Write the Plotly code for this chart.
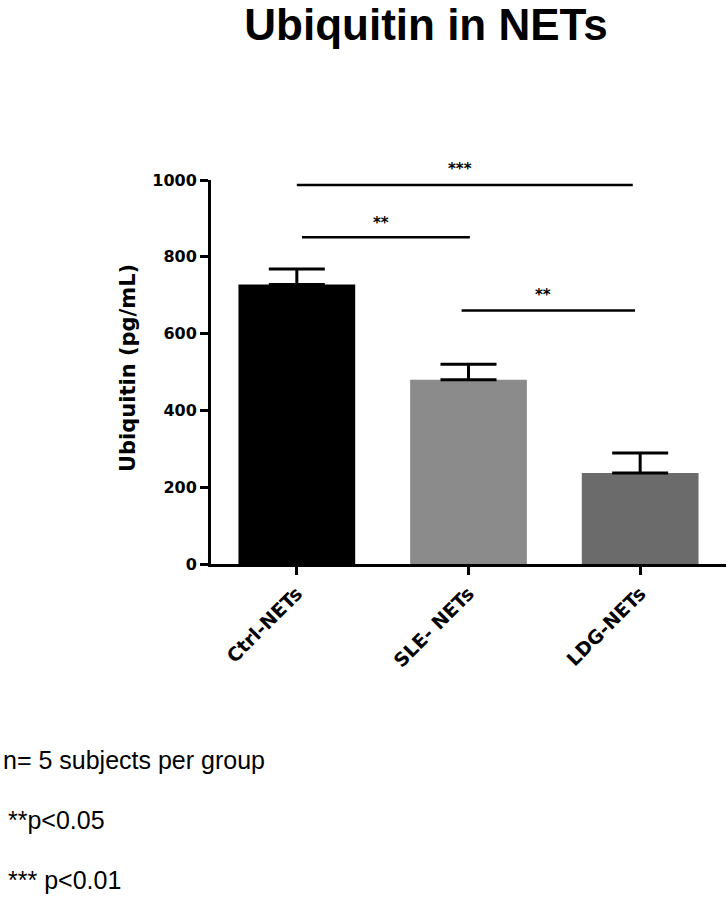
import plotly.graph_objects as go

# ---- data ----
categories = ["Ctrl-NETs", "SLE- NETs", "LDG-NETs"]
values = [728, 480, 237]
errors = [40, 40, 52]
bar_colors = ["#000000", "#8b8b8b", "#6b6b6b"]

# significance comparisons: start, end (category index units), height, label
sig_start = [0.0, 0.03, 0.96]
sig_end = [1.957, 1.008, 1.97]
sig_height = [987, 851, 660]
sig_label = ["***", "**", "**"]
sig_label_y = [1028, 889, 701]

y_ticks = [0, 200, 400, 600, 800, 1000]
notes = ["n= 5 subjects per group", "**p<0.05", "*** p<0.01"]

W, H = 728, 900
L, R, T, B = 211, 2, 180, 336
PW, PH = W - L - R, H - T - B
Y_MAX = 1000

def px_x(px):
    return (px - L) / PW

def px_y(py):
    return (H - B - py) / PH

fig = go.Figure()
fig.add_trace(go.Bar(
    x=categories, y=values,
    marker=dict(color=bar_colors, line=dict(width=0)),
    error_y=dict(type="data", array=errors, visible=True, symmetric=False,
                 arrayminus=[0, 0, 0], color="black", thickness=3, width=28),
    width=0.68,
))

shapes = []
annotations = []
for s, e, h, lab, ly in zip(sig_start, sig_end, sig_height, sig_label, sig_label_y):
    shapes.append(dict(type="line", xref="x", yref="y", x0=s, x1=e, y0=h, y1=h,
                       line=dict(color="black", width=2.5)))
    annotations.append(dict(xref="x", yref="paper", x=(s + e) / 2 - 0.03, y=ly / Y_MAX, text=lab,
                            showarrow=False, xanchor="center", yanchor="middle",
                            font=dict(family="DejaVu Sans", size=15, color="black", weight="bold")))

# y-axis title
annotations.append(dict(xref="paper", yref="paper", x=px_x(128), y=px_y(368),
                        text="Ubiquitin (pg/mL)", textangle=-90, showarrow=False,
                        xanchor="center", yanchor="middle",
                        font=dict(family="DejaVu Sans", size=21, color="black", weight="bold")))

# bottom notes
note_y = [760, 820, 880]
note_x = [1, 6, 6]
for txt, nx, ny in zip(notes, note_x, note_y):
    annotations.append(dict(xref="paper", yref="paper", x=px_x(nx), y=px_y(ny),
                            text=txt, showarrow=False, xanchor="left", yanchor="middle",
                            font=dict(family="Liberation Sans", size=25, color="black")))

fig.update_layout(
    width=W, height=H,
    margin=dict(l=L, r=R, t=T, b=B),
    paper_bgcolor="white", plot_bgcolor="white",
    showlegend=False,
    title=dict(text="Ubiquitin in NETs", x=426 / W, xref="container", xanchor="center",
               y=1 - 25 / H, yref="container", yanchor="middle",
               font=dict(family="Liberation Sans", size=44, color="black", weight="bold")),
    shapes=shapes,
    annotations=annotations,
    xaxis=dict(range=[-0.5, 2.5], showline=True, linewidth=3, linecolor="black",
               ticks="outside", ticklen=8, tickwidth=3, tickcolor="black",
               tickangle=-45, showgrid=False, zeroline=False,
               tickfont=dict(family="DejaVu Sans", size=19, color="black", weight="bold")),
    yaxis=dict(range=[0, Y_MAX], tickvals=y_ticks, showline=True, linewidth=3, linecolor="black",
               ticks="outside", ticklen=8, tickwidth=3, tickcolor="black",
               showgrid=False, zeroline=False,
               tickfont=dict(family="DejaVu Sans", size=16, color="black", weight="bold")),
)

fig.write_html("out.html", config={"displayModeBar": False},
               post_script="document.body.style.margin='0px';")
